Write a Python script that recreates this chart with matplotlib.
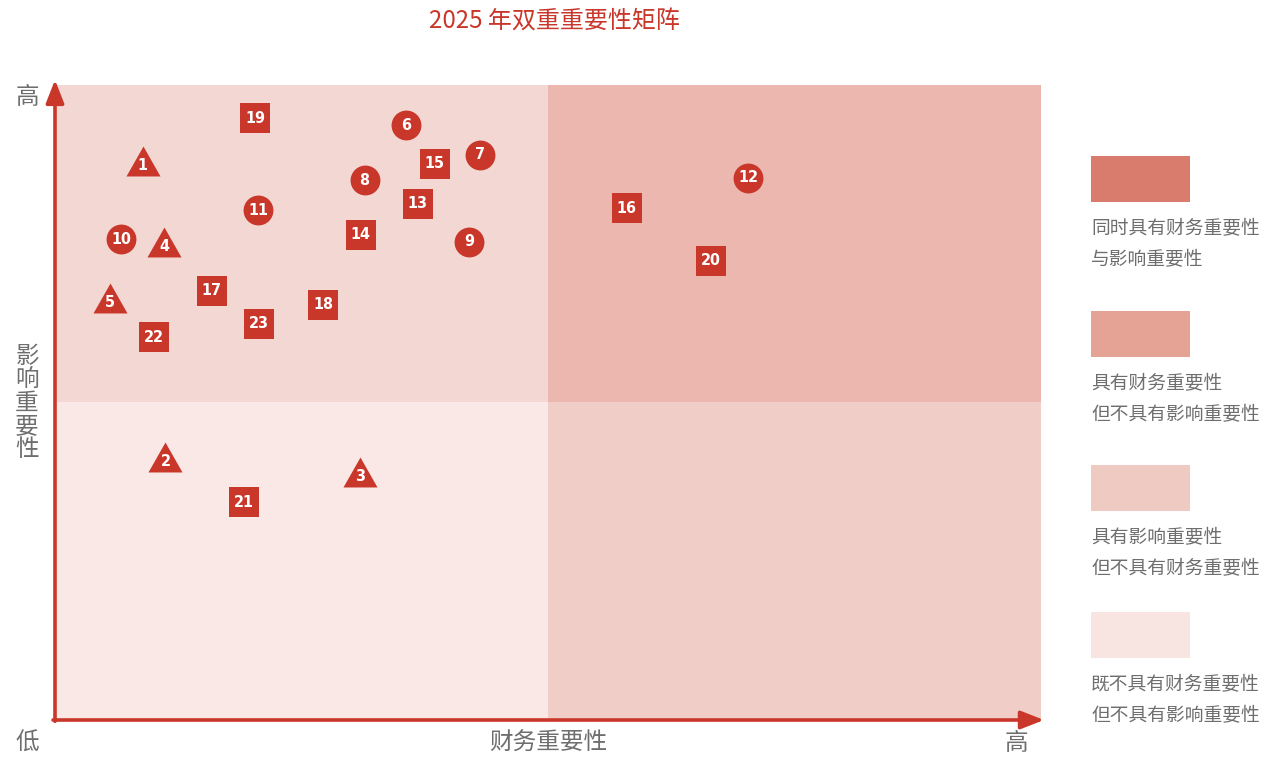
import matplotlib
matplotlib.use("Agg")
import matplotlib.pyplot as plt
from matplotlib.patches import Rectangle

plt.rcParams['font.family'] = ['Noto Sans CJK SC', 'DejaVu Sans']

# ---- data ----
labels = [1, 2, 3, 4, 5, 6, 7, 8, 9, 10, 11, 12, 13, 14, 15, 16, 17, 18, 19, 20, 21, 22, 23]
fin_x = [0.89, 1.12, 3.09, 1.11, 0.56, 3.56, 4.31, 3.14, 4.20, 0.67, 2.06, 7.03,
         3.68, 3.10, 3.85, 5.80, 1.59, 2.72, 2.03, 6.65, 1.92, 1.00, 2.07]
imp_y = [8.80, 4.14, 3.90, 7.52, 6.65, 9.37, 8.90, 8.50, 7.53, 7.57, 8.03, 8.54,
         8.13, 7.64, 8.76, 8.06, 6.76, 6.54, 9.48, 7.23, 3.43, 6.03, 6.24]
shapes = ['^', '^', '^', '^', '^', 'o', 'o', 'o', 'o', 'o', 'o', 'o',
          's', 's', 's', 's', 's', 's', 's', 's', 's', 's', 's']

title = "2025 年双重重要性矩阵"
x_label = "财务重要性"
y_label = "影响重要性"
low_text = "低"
high_text = "高"
legend_labels = ["同时具有财务重要性\n与影响重要性",
                 "具有财务重要性\n但不具有影响重要性",
                 "具有影响重要性\n但不具有财务重要性",
                 "既不具有财务重要性\n但不具有影响重要性"]

# ---- style ----
RED = "#c9362a"
GRAY = "#6e6e6e"
q_tl, q_tr, q_bl, q_br = "#f3d7d3", "#ebb7ae", "#f9e8e5", "#f0cdc7"
legend_colors = ["#d97c6e", "#e5a396", "#efcac3", "#f8e5e2"]
tri = [(0, 0.88), (-1, -0.88), (1, -0.88), (0, 0.88)]

W, H = 1264, 757
fig = plt.figure(figsize=(W / 100, H / 100), dpi=100)
L, R, T, B = 55, 1041, 85, 720
ax = fig.add_axes([L / W, 1 - B / H, (R - L) / W, (B - T) / H])
ax.set_xlim(0, 10)
ax.set_ylim(0, 10)
ax.axis('off')

# quadrants (bottom ones slightly taller so no seam shows)
ax.add_patch(Rectangle((0, 0), 5.02, 5.05, facecolor=q_bl, lw=0, zorder=0))
ax.add_patch(Rectangle((5, 0), 5, 5.05, facecolor=q_br, lw=0, zorder=0))
ax.add_patch(Rectangle((0, 5), 5.02, 5, facecolor=q_tl, lw=0, zorder=0.1))
ax.add_patch(Rectangle((5, 5), 5, 5, facecolor=q_tr, lw=0, zorder=0.2))

# axis arrows
ap = dict(arrowstyle='-|>,head_length=1.4,head_width=0.55', color=RED, lw=2.6,
          shrinkA=0, shrinkB=0)
ax.annotate('', xy=(0, 1.008), xytext=(0, -0.002), xycoords='axes fraction',
            textcoords='axes fraction', arrowprops=ap, annotation_clip=False, zorder=5)
ax.annotate('', xy=(1.003, 0), xytext=(-0.002, 0), xycoords='axes fraction',
            textcoords='axes fraction', arrowprops=ap, annotation_clip=False, zorder=5)

# markers
sizes = {'o': 21.5, 's': 21.0, '^': 24.5}
for lab, x, y, m in zip(labels, fin_x, imp_y, shapes):
    mk = tri if m == '^' else m
    ax.plot(x, y, marker=mk, markersize=sizes[m], color=RED, markeredgewidth=0,
            linestyle='none', zorder=6, clip_on=False)
    dy = -0.07 if m == '^' else 0
    ax.text(x, y + dy, str(lab), ha='center', va='center', color='white',
            fontsize=11.5, fontweight='bold', fontstretch='condensed',
            family=['DejaVu Sans'], zorder=7)

# texts
fig.text(554 / W, 1 - 22 / H, title, ha='center', va='center', color=RED, fontsize=17.3)
fig.text(27 / W, 1 - 97 / H, high_text, ha='center', va='center', color=GRAY, fontsize=17)
fig.text(27 / W, 1 - 403 / H, "\n".join(y_label), ha='center', va='center',
         color=GRAY, fontsize=17, linespacing=1.02)
fig.text(27 / W, 1 - 743 / H, low_text, ha='center', va='center', color=GRAY, fontsize=17)
fig.text(548 / W, 1 - 743 / H, x_label, ha='center', va='center', color=GRAY, fontsize=17)
fig.text(1016 / W, 1 - 743 / H, high_text, ha='center', va='center', color=GRAY, fontsize=17)

# legend
box_tops = [156, 311, 465, 612]
for top, col, txt in zip(box_tops, legend_colors, legend_labels):
    fig.patches.append(Rectangle((1091 / W, 1 - (top + 46) / H), 99 / W, 46 / H,
                                 transform=fig.transFigure, color=col, lw=0))
    fig.text(1091 / W, 1 - (top + 62) / H, txt, ha='left', va='top', color=GRAY,
             fontsize=13.5, linespacing=1.62)

fig.savefig("out.png", dpi=100)
